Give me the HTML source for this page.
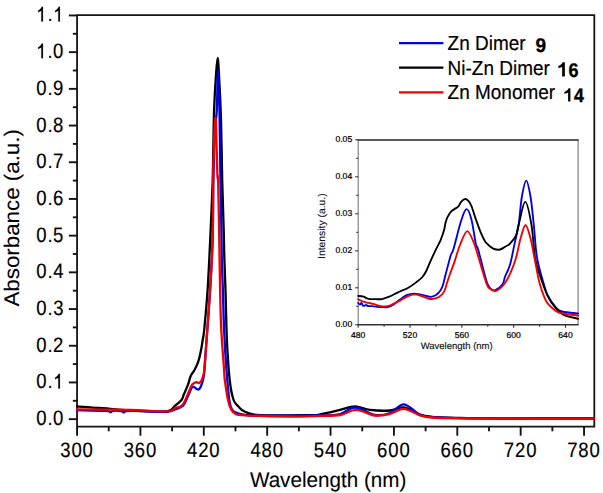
<!DOCTYPE html>
<html><head><meta charset="utf-8"><style>
html,body{margin:0;padding:0;background:#fff;width:603px;height:493px;overflow:hidden}
svg{display:block}
text{font-family:"Liberation Sans",sans-serif;fill:#000;text-rendering:geometricPrecision}
.tl{font-size:20.8px;stroke:#000;stroke-width:0.18px}
.tt{font-size:21.2px;stroke:#000;stroke-width:0.1px}
.lg{font-size:20.3px;stroke:#000;stroke-width:0.2px}
.num{font-size:19.6px;font-weight:bold;stroke:#000;stroke-width:0.35px}
.itl{font-size:8.6px;fill:#000;stroke:#000;stroke-width:0.22px}
.itt{font-size:9.5px;fill:#111;stroke:#111;stroke-width:0.15px}
.itt2{font-size:10px;fill:#111;stroke:#111;stroke-width:0.12px}
</style></head><body>
<svg width="603" height="493" viewBox="0 0 603 493">
<rect width="603" height="493" fill="#fff"/>
<path d="M77.05,15.2 H594.3 V426.7 H77.05 Z" fill="none" stroke="#141414" stroke-width="1.8"/>
<line x1="77.05" y1="426.7" x2="77.05" y2="435.7" stroke="#141414" stroke-width="1.9"/>
<text transform="translate(60.26,456.60) scale(0.89,1)" class="tl">3</text>
<text transform="translate(71.41,456.60) scale(0.89,1)" class="tl">0</text>
<text transform="translate(82.61,456.60) scale(0.89,1)" class="tl">0</text>
<line x1="140.42" y1="426.7" x2="140.42" y2="435.7" stroke="#141414" stroke-width="1.9"/>
<text transform="translate(123.63,456.60) scale(0.89,1)" class="tl">3</text>
<text transform="translate(134.74,456.60) scale(0.89,1)" class="tl">6</text>
<text transform="translate(145.99,456.60) scale(0.89,1)" class="tl">0</text>
<line x1="203.80" y1="426.7" x2="203.80" y2="435.7" stroke="#141414" stroke-width="1.9"/>
<text transform="translate(187.01,456.60) scale(0.89,1)" class="tl">4</text>
<text transform="translate(198.16,456.60) scale(0.89,1)" class="tl">2</text>
<text transform="translate(209.36,456.60) scale(0.89,1)" class="tl">0</text>
<line x1="267.17" y1="426.7" x2="267.17" y2="435.7" stroke="#141414" stroke-width="1.9"/>
<text transform="translate(250.38,456.60) scale(0.89,1)" class="tl">4</text>
<text transform="translate(261.49,456.60) scale(0.89,1)" class="tl">8</text>
<text transform="translate(272.74,456.60) scale(0.89,1)" class="tl">0</text>
<line x1="330.55" y1="426.7" x2="330.55" y2="435.7" stroke="#141414" stroke-width="1.9"/>
<text transform="translate(313.71,456.60) scale(0.89,1)" class="tl">5</text>
<text transform="translate(324.96,456.60) scale(0.89,1)" class="tl">4</text>
<text transform="translate(336.11,456.60) scale(0.89,1)" class="tl">0</text>
<line x1="393.93" y1="426.7" x2="393.93" y2="435.7" stroke="#141414" stroke-width="1.9"/>
<text transform="translate(377.04,456.60) scale(0.89,1)" class="tl">6</text>
<text transform="translate(388.29,456.60) scale(0.89,1)" class="tl">0</text>
<text transform="translate(399.49,456.60) scale(0.89,1)" class="tl">0</text>
<line x1="457.30" y1="426.7" x2="457.30" y2="435.7" stroke="#141414" stroke-width="1.9"/>
<text transform="translate(440.42,456.60) scale(0.89,1)" class="tl">6</text>
<text transform="translate(451.62,456.60) scale(0.89,1)" class="tl">6</text>
<text transform="translate(462.86,456.60) scale(0.89,1)" class="tl">0</text>
<line x1="520.67" y1="426.7" x2="520.67" y2="435.7" stroke="#141414" stroke-width="1.9"/>
<text transform="translate(503.84,456.60) scale(0.89,1)" class="tl">7</text>
<text transform="translate(515.04,456.60) scale(0.89,1)" class="tl">2</text>
<text transform="translate(526.24,456.60) scale(0.89,1)" class="tl">0</text>
<line x1="584.05" y1="426.7" x2="584.05" y2="435.7" stroke="#141414" stroke-width="1.9"/>
<text transform="translate(567.21,456.60) scale(0.89,1)" class="tl">7</text>
<text transform="translate(578.37,456.60) scale(0.89,1)" class="tl">8</text>
<text transform="translate(589.61,456.60) scale(0.89,1)" class="tl">0</text>
<line x1="108.74" y1="426.7" x2="108.74" y2="431.3" stroke="#141414" stroke-width="1.9"/>
<line x1="172.11" y1="426.7" x2="172.11" y2="431.3" stroke="#141414" stroke-width="1.9"/>
<line x1="235.49" y1="426.7" x2="235.49" y2="431.3" stroke="#141414" stroke-width="1.9"/>
<line x1="298.86" y1="426.7" x2="298.86" y2="431.3" stroke="#141414" stroke-width="1.9"/>
<line x1="362.24" y1="426.7" x2="362.24" y2="431.3" stroke="#141414" stroke-width="1.9"/>
<line x1="425.61" y1="426.7" x2="425.61" y2="431.3" stroke="#141414" stroke-width="1.9"/>
<line x1="488.99" y1="426.7" x2="488.99" y2="431.3" stroke="#141414" stroke-width="1.9"/>
<line x1="552.36" y1="426.7" x2="552.36" y2="431.3" stroke="#141414" stroke-width="1.9"/>
<line x1="68.85" y1="419.15" x2="77.05" y2="419.15" stroke="#141414" stroke-width="1.9"/>
<text transform="translate(36.16,425.15) scale(0.89,1)" class="tl">0</text>
<text transform="translate(47.50,425.15) scale(0.89,1)" class="tl">.</text>
<text transform="translate(53.11,425.15) scale(0.89,1)" class="tl">0</text>
<line x1="68.85" y1="382.45" x2="77.05" y2="382.45" stroke="#141414" stroke-width="1.9"/>
<text transform="translate(36.16,388.45) scale(0.89,1)" class="tl">0</text>
<text transform="translate(47.50,388.45) scale(0.89,1)" class="tl">.</text>
<path d="M58.30,388.45 h1.6 V373.85 H58.80 Q58.10,375.45 56.70,376.45 Q55.70,377.15 55.05,377.65 V379.35 Q56.10,379.05 57.30,378.35 Q57.90,377.95 58.30,377.45 Z" fill="#000" stroke="#000" stroke-width="0.18"/>
<line x1="68.85" y1="345.75" x2="77.05" y2="345.75" stroke="#141414" stroke-width="1.9"/>
<text transform="translate(36.16,351.75) scale(0.89,1)" class="tl">0</text>
<text transform="translate(47.50,351.75) scale(0.89,1)" class="tl">.</text>
<text transform="translate(53.11,351.75) scale(0.89,1)" class="tl">2</text>
<line x1="68.85" y1="309.05" x2="77.05" y2="309.05" stroke="#141414" stroke-width="1.9"/>
<text transform="translate(36.16,315.05) scale(0.89,1)" class="tl">0</text>
<text transform="translate(47.50,315.05) scale(0.89,1)" class="tl">.</text>
<text transform="translate(53.16,315.05) scale(0.89,1)" class="tl">3</text>
<line x1="68.85" y1="272.35" x2="77.05" y2="272.35" stroke="#141414" stroke-width="1.9"/>
<text transform="translate(36.16,278.35) scale(0.89,1)" class="tl">0</text>
<text transform="translate(47.50,278.35) scale(0.89,1)" class="tl">.</text>
<text transform="translate(53.16,278.35) scale(0.89,1)" class="tl">4</text>
<line x1="68.85" y1="235.65" x2="77.05" y2="235.65" stroke="#141414" stroke-width="1.9"/>
<text transform="translate(36.16,241.65) scale(0.89,1)" class="tl">0</text>
<text transform="translate(47.50,241.65) scale(0.89,1)" class="tl">.</text>
<text transform="translate(53.11,241.65) scale(0.89,1)" class="tl">5</text>
<line x1="68.85" y1="198.95" x2="77.05" y2="198.95" stroke="#141414" stroke-width="1.9"/>
<text transform="translate(36.16,204.95) scale(0.89,1)" class="tl">0</text>
<text transform="translate(47.50,204.95) scale(0.89,1)" class="tl">.</text>
<text transform="translate(53.07,204.95) scale(0.89,1)" class="tl">6</text>
<line x1="68.85" y1="162.25" x2="77.05" y2="162.25" stroke="#141414" stroke-width="1.9"/>
<text transform="translate(36.16,168.25) scale(0.89,1)" class="tl">0</text>
<text transform="translate(47.50,168.25) scale(0.89,1)" class="tl">.</text>
<text transform="translate(53.11,168.25) scale(0.89,1)" class="tl">7</text>
<line x1="68.85" y1="125.55" x2="77.05" y2="125.55" stroke="#141414" stroke-width="1.9"/>
<text transform="translate(36.16,131.55) scale(0.89,1)" class="tl">0</text>
<text transform="translate(47.50,131.55) scale(0.89,1)" class="tl">.</text>
<text transform="translate(53.07,131.55) scale(0.89,1)" class="tl">8</text>
<line x1="68.85" y1="88.85" x2="77.05" y2="88.85" stroke="#141414" stroke-width="1.9"/>
<text transform="translate(36.16,94.85) scale(0.89,1)" class="tl">0</text>
<text transform="translate(47.50,94.85) scale(0.89,1)" class="tl">.</text>
<text transform="translate(53.11,94.85) scale(0.89,1)" class="tl">9</text>
<line x1="68.85" y1="52.15" x2="77.05" y2="52.15" stroke="#141414" stroke-width="1.9"/>
<path d="M41.35,58.15 h1.6 V43.55 H41.85 Q41.15,45.15 39.75,46.15 Q38.75,46.85 38.10,47.35 V49.05 Q39.15,48.75 40.35,48.05 Q40.95,47.65 41.35,47.15 Z" fill="#000" stroke="#000" stroke-width="0.18"/>
<text transform="translate(47.50,58.15) scale(0.89,1)" class="tl">.</text>
<text transform="translate(53.11,58.15) scale(0.89,1)" class="tl">0</text>
<line x1="68.85" y1="15.45" x2="77.05" y2="15.45" stroke="#141414" stroke-width="1.9"/>
<path d="M41.35,21.45 h1.6 V6.85 H41.85 Q41.15,8.45 39.75,9.45 Q38.75,10.15 38.10,10.65 V12.35 Q39.15,12.05 40.35,11.35 Q40.95,10.95 41.35,10.45 Z" fill="#000" stroke="#000" stroke-width="0.18"/>
<text transform="translate(47.50,21.45) scale(0.89,1)" class="tl">.</text>
<path d="M58.30,21.45 h1.6 V6.85 H58.80 Q58.10,8.45 56.70,9.45 Q55.70,10.15 55.05,10.65 V12.35 Q56.10,12.05 57.30,11.35 Q57.90,10.95 58.30,10.45 Z" fill="#000" stroke="#000" stroke-width="0.18"/>
<line x1="72.85" y1="400.80" x2="77.05" y2="400.80" stroke="#141414" stroke-width="1.9"/>
<line x1="72.85" y1="364.10" x2="77.05" y2="364.10" stroke="#141414" stroke-width="1.9"/>
<line x1="72.85" y1="327.40" x2="77.05" y2="327.40" stroke="#141414" stroke-width="1.9"/>
<line x1="72.85" y1="290.70" x2="77.05" y2="290.70" stroke="#141414" stroke-width="1.9"/>
<line x1="72.85" y1="254.00" x2="77.05" y2="254.00" stroke="#141414" stroke-width="1.9"/>
<line x1="72.85" y1="217.30" x2="77.05" y2="217.30" stroke="#141414" stroke-width="1.9"/>
<line x1="72.85" y1="180.60" x2="77.05" y2="180.60" stroke="#141414" stroke-width="1.9"/>
<line x1="72.85" y1="143.90" x2="77.05" y2="143.90" stroke="#141414" stroke-width="1.9"/>
<line x1="72.85" y1="107.20" x2="77.05" y2="107.20" stroke="#141414" stroke-width="1.9"/>
<line x1="72.85" y1="70.50" x2="77.05" y2="70.50" stroke="#141414" stroke-width="1.9"/>
<line x1="72.85" y1="33.80" x2="77.05" y2="33.80" stroke="#141414" stroke-width="1.9"/>
<text transform="translate(249.9,487.2) scale(0.975,1)" class="tt">Wavelength (nm)</text>
<text transform="translate(18.8,306.6) rotate(-90) scale(1.054,1)" class="tt">Absorbance (a.u.)</text>
<path d="M77.0,406.4 C80.8,406.7 90.3,407.2 100.0,408.0 C109.7,408.8 123.8,410.3 135.0,410.9 C146.2,411.5 160.3,412.3 167.0,411.4 C173.7,410.5 172.6,407.6 175.0,405.7 C177.4,403.8 180.0,401.9 181.5,400.0 C183.0,398.1 182.8,396.9 183.9,394.3 C185.0,391.7 186.8,387.7 188.0,384.6 C189.2,381.5 189.7,378.1 190.8,375.7 C191.9,373.3 193.2,372.5 194.5,370.0 C195.8,367.5 197.4,364.1 198.5,360.8 C199.6,357.5 200.3,353.7 201.0,350.3 C201.7,346.9 202.1,343.9 202.6,340.5 C203.1,337.1 203.4,338.4 204.2,330.0 C205.0,321.6 206.6,305.0 207.6,290.0 C208.6,275.0 209.3,258.3 210.2,240.0 C211.0,221.7 212.0,201.7 212.7,180.0 C213.3,158.3 213.5,127.5 214.1,110.0 C214.7,92.5 215.4,83.7 216.0,75.0 C216.6,66.3 217.1,57.9 217.6,57.9 C218.1,57.9 218.4,64.7 219.0,75.0 C219.6,85.3 220.5,102.5 221.0,120.0 C221.5,137.5 221.8,161.7 222.2,180.0 C222.6,198.3 223.3,216.7 223.7,230.0 C224.1,243.3 224.1,250.0 224.4,260.0 C224.7,270.0 225.1,276.7 225.5,290.0 C225.9,303.3 226.2,325.0 226.9,340.0 C227.6,355.0 228.6,370.0 229.7,380.0 C230.8,390.0 232.1,395.6 233.6,400.0 C235.1,404.4 236.5,404.5 238.4,406.5 C240.3,408.5 241.4,410.4 245.0,411.8 C248.6,413.2 249.2,414.6 260.0,415.1 C270.8,415.7 300.0,415.2 310.0,415.1 C320.0,415.0 316.7,415.0 320.0,414.5 C323.3,414.0 326.7,413.1 330.0,412.3 C333.3,411.5 335.8,410.9 340.0,409.9 C344.2,408.9 350.0,406.3 355.0,406.3 C360.0,406.3 364.2,409.2 370.0,409.9 C375.8,410.6 384.3,410.9 390.0,410.5 C395.7,410.1 399.0,406.8 404.0,407.5 C409.0,408.2 415.3,413.1 420.0,414.6 C424.7,416.2 425.3,416.2 432.0,416.8 C438.7,417.4 448.7,417.6 460.0,417.9 C471.3,418.1 477.7,418.2 500.0,418.3 C522.3,418.4 578.3,418.5 594.0,418.5" fill="none" stroke="#000" stroke-width="2.3" stroke-linejoin="round" stroke-linecap="round"/>
<path d="M77.0,410.2 C81.8,410.3 100.5,410.5 106.0,410.8 C111.5,411.1 109.1,412.2 110.3,412.2 C111.5,412.2 111.2,411.0 113.0,410.8 C114.8,410.6 119.2,410.7 121.0,411.0 C122.8,411.3 123.0,412.5 123.8,412.5 C124.6,412.5 124.1,411.3 126.0,411.0 C127.9,410.7 128.2,410.7 135.0,410.8 C141.8,410.9 160.3,412.0 167.0,411.8 C173.7,411.6 172.3,410.5 175.0,409.5 C177.7,408.5 180.9,407.9 183.1,405.7 C185.3,403.4 186.5,399.1 188.0,396.0 C189.5,392.9 190.9,388.8 192.0,387.4 C193.1,386.0 193.4,387.0 194.5,387.4 C195.6,387.8 197.3,390.1 198.5,389.5 C199.7,388.9 200.9,386.5 201.8,383.8 C202.8,381.1 203.5,379.7 204.2,373.2 C204.9,366.7 205.2,358.9 206.2,345.0 C207.2,331.1 209.0,307.5 210.1,290.0 C211.2,272.5 212.0,258.3 212.6,240.0 C213.2,221.7 213.0,198.3 213.4,180.0 C213.8,161.7 214.4,141.7 215.0,130.0 C215.6,118.3 216.3,119.8 216.8,110.0 C217.3,100.2 217.6,73.0 218.0,71.3 C218.4,69.6 218.9,82.7 219.3,100.0 C219.7,117.3 220.1,153.3 220.4,175.0 C220.8,196.7 221.2,215.8 221.4,230.0 C221.6,244.2 221.6,250.0 221.8,260.0 C222.1,270.0 222.5,278.3 222.9,290.0 C223.3,301.7 223.5,316.7 224.1,330.0 C224.7,343.3 225.6,358.3 226.5,370.0 C227.4,381.7 228.4,393.5 229.3,400.0 C230.2,406.5 230.6,406.9 231.7,409.0 C232.8,411.1 233.5,411.5 235.7,412.5 C237.9,413.5 240.9,414.3 245.0,414.8 C249.1,415.3 247.5,415.5 260.0,415.6 C272.5,415.7 306.7,415.8 320.0,415.5 C333.3,415.2 334.2,415.3 340.0,414.0 C345.8,412.7 349.2,407.3 355.0,407.5 C360.8,407.7 369.2,414.1 375.0,415.0 C380.8,415.9 385.2,414.8 390.0,413.0 C394.8,411.2 399.0,404.0 404.0,404.3 C409.0,404.6 415.3,412.7 420.0,414.8 C424.7,416.9 425.3,416.6 432.0,417.2 C438.7,417.8 448.7,417.9 460.0,418.1 C471.3,418.3 477.7,418.2 500.0,418.3 C522.3,418.4 578.3,418.4 594.0,418.4" fill="none" stroke="#0000e6" stroke-width="2.3" stroke-linejoin="round" stroke-linecap="round"/>
<path d="M77.0,409.4 C85.8,409.5 115.0,409.6 130.0,409.9 C145.0,410.2 159.5,411.7 167.0,411.4 C174.5,411.1 172.8,408.8 175.0,408.0 C177.2,407.2 178.6,407.5 179.9,406.9 C181.2,406.2 182.0,405.7 183.1,404.1 C184.2,402.6 185.1,400.6 186.4,397.6 C187.8,394.6 190.0,388.6 191.2,386.2 C192.4,383.8 192.8,384.1 193.7,383.4 C194.6,382.7 195.7,382.3 196.5,382.2 C197.3,382.1 197.8,383.1 198.5,383.0 C199.2,382.9 200.2,382.5 201.0,381.4 C201.8,380.3 202.5,378.4 203.0,376.5 C203.5,374.6 203.7,375.2 204.2,370.0 C204.7,364.8 205.2,358.3 206.2,345.0 C207.2,331.7 209.0,307.5 210.1,290.0 C211.2,272.5 212.1,258.3 212.6,240.0 C213.1,221.7 213.0,193.3 213.2,180.0 C213.3,166.7 213.1,170.3 213.5,160.0 C213.9,149.7 214.8,115.4 215.5,117.9 C216.2,120.4 217.0,164.7 217.4,175.0 C217.8,185.3 217.8,169.2 218.1,180.0 C218.4,190.8 219.0,221.7 219.3,240.0 C219.6,258.3 219.8,275.0 220.1,290.0 C220.4,305.0 220.6,316.7 221.3,330.0 C222.0,343.3 223.5,361.7 224.1,370.0 C224.7,378.3 224.2,375.0 224.8,380.0 C225.5,385.0 226.9,395.0 228.0,399.9 C229.1,404.8 230.0,407.2 231.3,409.6 C232.6,412.0 233.7,413.2 236.0,414.2 C238.3,415.1 241.0,415.0 245.0,415.3 C249.0,415.6 250.8,415.7 260.0,415.9 C269.2,416.1 290.0,416.6 300.0,416.6 C310.0,416.6 313.3,416.2 320.0,415.9 C326.7,415.6 334.0,416.0 340.0,415.0 C346.0,414.0 350.2,409.8 356.0,409.9 C361.8,410.0 369.3,414.8 375.0,415.5 C380.7,416.2 385.2,415.0 390.0,413.9 C394.8,412.8 399.0,408.7 404.0,408.9 C409.0,409.1 415.3,413.9 420.0,415.3 C424.7,416.7 425.3,417.0 432.0,417.5 C438.7,418.0 448.7,418.1 460.0,418.3 C471.3,418.5 477.7,418.4 500.0,418.5 C522.3,418.6 578.3,418.6 594.0,418.6" fill="none" stroke="#f00000" stroke-width="2.3" stroke-linejoin="round" stroke-linecap="round"/>
<line x1="399" y1="43.1" x2="443.4" y2="43.1" stroke="#0000e6" stroke-width="2.2"/>
<text transform="translate(447.6,49.9) scale(0.935,1)" class="lg">Zn Dimer</text>
<line x1="399" y1="67.7" x2="443.4" y2="67.7" stroke="#000" stroke-width="2.2"/>
<text transform="translate(447.6,74.5) scale(0.935,1)" class="lg">Ni-Zn Dimer</text>
<line x1="399" y1="92.3" x2="443.4" y2="92.3" stroke="#f00000" stroke-width="2.2"/>
<text transform="translate(447.6,99.1) scale(0.935,1)" class="lg">Zn Monomer</text>
<text transform="translate(535.58,51.80) scale(0.96,1)" class="num" style="font-size:19.8px">9</text>
<path d="M562.15,76.40 H564.85 V62.35 H562.75 Q561.95,64.05 560.35,65.05 Q559.25,65.65 558.35,65.95 V68.10 Q559.85,67.50 560.95,67.40 Q561.75,66.90 562.15,66.70 Z" fill="#000"/>
<text transform="translate(568.60,76.60) scale(0.91,1)" class="num" style="font-size:19.8px">6</text>
<path d="M568.10,101.40 H570.40 V88.25 H568.70 Q567.90,89.95 566.30,90.95 Q565.25,91.55 564.35,91.85 V93.70 Q565.85,93.10 566.90,93.30 Q567.70,92.80 568.10,92.60 Z" fill="#000"/>
<text transform="translate(574.02,101.60) scale(0.9,1)" class="num" style="font-size:19.8px">4</text>
<rect x="358.2" y="140.0" width="219.9" height="184.8" fill="#fff" stroke="none"/>
<line x1="358.2" y1="140.0" x2="358.2" y2="324.8" stroke="#777" stroke-width="1.1"/>
<line x1="578.1" y1="140.0" x2="578.1" y2="324.8" stroke="#777" stroke-width="1.1"/>
<line x1="357.7" y1="140.0" x2="578.6" y2="140.0" stroke="#222" stroke-width="1.6"/>
<line x1="357.7" y1="324.8" x2="578.6" y2="324.8" stroke="#333" stroke-width="1.4"/>
<line x1="358.20" y1="324.8" x2="358.20" y2="327.8" stroke="#333" stroke-width="1.1"/>
<text x="358.20" y="337.9" class="itl" text-anchor="middle">480</text>
<line x1="410.02" y1="324.8" x2="410.02" y2="327.8" stroke="#333" stroke-width="1.1"/>
<text x="410.02" y="337.9" class="itl" text-anchor="middle">520</text>
<line x1="461.85" y1="324.8" x2="461.85" y2="327.8" stroke="#333" stroke-width="1.1"/>
<text x="461.85" y="337.9" class="itl" text-anchor="middle">560</text>
<line x1="513.67" y1="324.8" x2="513.67" y2="327.8" stroke="#333" stroke-width="1.1"/>
<text x="513.67" y="337.9" class="itl" text-anchor="middle">600</text>
<line x1="565.50" y1="324.8" x2="565.50" y2="327.8" stroke="#333" stroke-width="1.1"/>
<text x="565.50" y="337.9" class="itl" text-anchor="middle">640</text>
<line x1="384.11" y1="324.8" x2="384.11" y2="326.8" stroke="#333" stroke-width="1.1"/>
<line x1="435.94" y1="324.8" x2="435.94" y2="326.8" stroke="#333" stroke-width="1.1"/>
<line x1="487.76" y1="324.8" x2="487.76" y2="326.8" stroke="#333" stroke-width="1.1"/>
<line x1="539.58" y1="324.8" x2="539.58" y2="326.8" stroke="#333" stroke-width="1.1"/>
<line x1="355.2" y1="324.80" x2="358.2" y2="324.80" stroke="#333" stroke-width="1.1"/>
<text x="352.2" y="327.30" class="itl" text-anchor="end">0.00</text>
<line x1="355.2" y1="287.80" x2="358.2" y2="287.80" stroke="#333" stroke-width="1.1"/>
<text x="352.2" y="290.30" class="itl" text-anchor="end">0.01</text>
<line x1="355.2" y1="250.80" x2="358.2" y2="250.80" stroke="#333" stroke-width="1.1"/>
<text x="352.2" y="253.30" class="itl" text-anchor="end">0.02</text>
<line x1="355.2" y1="213.80" x2="358.2" y2="213.80" stroke="#333" stroke-width="1.1"/>
<text x="352.2" y="216.30" class="itl" text-anchor="end">0.03</text>
<line x1="355.2" y1="176.80" x2="358.2" y2="176.80" stroke="#333" stroke-width="1.1"/>
<text x="352.2" y="179.30" class="itl" text-anchor="end">0.04</text>
<line x1="355.2" y1="139.80" x2="358.2" y2="139.80" stroke="#333" stroke-width="1.1"/>
<text x="352.2" y="142.30" class="itl" text-anchor="end">0.05</text>
<line x1="356.2" y1="306.30" x2="358.2" y2="306.30" stroke="#333" stroke-width="1.1"/>
<line x1="356.2" y1="269.30" x2="358.2" y2="269.30" stroke="#333" stroke-width="1.1"/>
<line x1="356.2" y1="232.30" x2="358.2" y2="232.30" stroke="#333" stroke-width="1.1"/>
<line x1="356.2" y1="195.30" x2="358.2" y2="195.30" stroke="#333" stroke-width="1.1"/>
<line x1="356.2" y1="158.30" x2="358.2" y2="158.30" stroke="#333" stroke-width="1.1"/>
<text x="420.7" y="349" class="itt">Wavelength (nm)</text>
<text transform="translate(325.4,258.9) rotate(-90) scale(1.035,1)" class="itt2">Intensity (a.u.)</text>
<path d="M358.2,302.9 C358.5,303.2 359.4,304.5 360.0,304.5 C360.6,304.5 361.0,302.8 361.5,303.0 C362.0,303.2 362.5,305.0 363.0,305.5 C363.5,306.0 363.8,305.9 364.3,305.8 C364.8,305.7 365.4,304.8 366.0,304.8 C366.6,304.8 366.9,305.8 368.0,306.0 C369.1,306.2 370.5,306.0 372.6,306.2 C374.8,306.4 378.4,307.0 380.9,307.1 C383.4,307.2 385.4,307.5 387.5,307.1 C389.6,306.7 391.2,305.9 393.3,304.6 C395.4,303.4 397.8,301.2 400.0,299.6 C402.2,298.0 404.2,296.2 406.6,295.2 C409.0,294.2 411.6,293.7 414.1,293.6 C416.6,293.5 418.8,294.2 421.6,294.8 C424.4,295.4 428.4,296.8 430.7,296.9 C433.0,297.0 434.0,296.3 435.7,295.2 C437.4,294.1 439.4,292.0 440.6,290.2 C441.8,288.4 442.3,287.0 443.1,284.4 C443.9,281.8 444.3,279.3 445.6,274.5 C446.9,269.7 449.4,259.6 450.7,255.4 C452.0,251.2 451.8,254.6 453.5,249.0 C455.2,243.4 458.7,228.4 460.8,221.8 C462.9,215.2 464.6,209.6 466.4,209.2 C468.2,208.8 469.8,213.2 471.4,219.2 C473.0,225.2 474.9,240.0 476.0,245.0 C477.1,250.0 476.3,243.2 478.0,249.0 C479.7,254.8 484.0,273.0 486.0,279.5 C488.0,286.0 488.4,286.3 490.0,288.1 C491.6,289.9 493.2,290.8 495.3,290.1 C497.4,289.4 501.1,286.2 502.7,284.0 C504.3,281.8 503.8,280.0 505.0,276.8 C506.2,273.6 508.4,270.3 510.0,264.8 C511.6,259.3 513.2,250.2 514.6,243.6 C516.0,237.0 517.4,232.8 518.6,225.0 C519.8,217.2 520.6,203.9 521.9,196.5 C523.2,189.1 524.9,180.6 526.3,180.6 C527.7,180.6 529.2,189.1 530.5,196.5 C531.8,203.9 532.7,214.7 533.8,225.0 C534.9,235.3 535.4,248.4 537.1,258.2 C538.8,268.0 542.0,277.7 543.8,284.0 C545.6,290.3 546.0,292.1 548.0,296.0 C550.0,299.9 553.7,304.9 556.0,307.5 C558.3,310.1 558.3,310.5 562.0,311.5 C565.7,312.5 575.4,313.2 578.1,313.5" fill="none" stroke="#0000e6" stroke-width="1.85" stroke-linejoin="round" stroke-linecap="round"/>
<path d="M358.2,295.9 C359.1,296.0 361.8,296.2 363.5,296.7 C365.2,297.2 366.2,298.4 368.4,298.8 C370.6,299.2 374.4,299.1 376.7,299.2 C379.0,299.2 379.9,299.5 382.0,299.1 C384.1,298.7 387.0,297.6 389.2,296.7 C391.4,295.8 393.2,294.7 395.0,293.8 C396.8,292.9 397.8,292.5 400.0,291.5 C402.2,290.5 405.5,289.4 408.3,287.8 C411.1,286.2 414.2,283.8 416.6,282.0 C419.0,280.2 420.9,278.7 422.4,277.0 C423.9,275.3 424.4,274.6 425.7,272.0 C427.0,269.4 428.8,265.0 430.4,261.4 C432.0,257.8 433.8,253.9 435.5,250.3 C437.2,246.8 439.2,243.5 440.6,240.1 C442.0,236.7 443.3,232.8 444.1,230.0 C444.9,227.2 444.9,225.1 445.5,223.0 C446.1,220.9 446.5,219.2 447.5,217.2 C448.5,215.2 449.7,213.0 451.5,211.2 C453.3,209.4 456.6,208.1 458.2,206.6 C459.8,205.1 459.8,203.3 461.0,202.0 C462.2,200.7 463.9,198.6 465.5,199.0 C467.1,199.4 469.2,201.4 470.8,204.6 C472.4,207.8 473.8,213.3 475.4,217.9 C477.0,222.5 479.0,228.4 480.7,232.4 C482.4,236.4 483.8,239.4 485.3,241.7 C486.9,244.0 488.6,245.2 490.0,246.4 C491.4,247.6 492.3,248.5 494.0,249.0 C495.7,249.5 498.0,250.0 500.0,249.5 C502.0,249.0 504.3,247.2 506.0,246.2 C507.7,245.2 508.4,245.4 510.0,243.6 C511.6,241.8 514.5,238.7 515.9,235.6 C517.3,232.5 517.0,230.6 518.6,225.0 C520.2,219.4 523.1,201.8 525.2,201.8 C527.4,201.8 529.9,215.6 531.5,225.0 C533.1,234.4 533.7,249.9 535.1,258.2 C536.5,266.5 537.7,268.7 539.8,275.0 C541.9,281.3 545.1,290.7 547.7,296.2 C550.4,301.7 553.0,305.1 555.7,308.2 C558.4,311.3 560.0,313.0 563.7,314.8 C567.4,316.6 575.7,318.1 578.1,318.8" fill="none" stroke="#000" stroke-width="1.85" stroke-linejoin="round" stroke-linecap="round"/>
<path d="M358.2,299.2 C358.9,299.6 360.9,300.7 362.6,301.3 C364.3,301.9 366.5,302.4 368.4,302.9 C370.3,303.4 372.4,303.7 374.2,304.2 C376.0,304.7 377.0,305.5 379.2,305.8 C381.4,306.1 385.1,306.5 387.5,306.2 C389.9,305.9 391.2,304.7 393.3,303.8 C395.4,302.9 397.8,301.8 400.0,300.6 C402.2,299.5 404.2,297.9 406.6,296.9 C409.0,295.9 411.6,294.5 414.1,294.4 C416.6,294.2 419.2,295.3 421.6,296.0 C424.0,296.7 426.3,298.0 428.2,298.5 C430.1,299.0 431.4,299.2 433.2,298.9 C435.0,298.6 437.2,298.1 439.0,296.9 C440.8,295.7 442.6,294.4 444.0,291.9 C445.4,289.4 446.3,284.9 447.3,282.0 C448.3,279.1 448.6,278.0 449.8,274.5 C451.1,271.0 453.1,265.8 454.8,260.9 C456.5,256.0 457.9,250.0 460.0,245.0 C462.1,240.0 464.9,231.1 467.4,231.1 C469.8,231.1 473.3,242.0 474.7,245.0 C476.1,248.0 474.1,242.8 476.0,249.0 C477.9,255.2 483.7,275.5 486.0,282.1 C488.3,288.7 488.3,287.4 490.0,288.8 C491.7,290.2 493.6,291.6 496.0,290.8 C498.4,290.0 501.9,287.0 504.3,284.0 C506.7,281.0 508.7,277.0 510.6,272.7 C512.5,268.4 514.2,263.9 515.9,258.2 C517.6,252.5 519.0,243.8 520.6,238.3 C522.2,232.8 523.9,225.0 525.5,225.0 C527.1,225.0 528.8,231.7 530.5,238.3 C532.2,244.9 534.2,257.2 535.8,264.8 C537.3,272.4 538.0,277.9 539.8,284.0 C541.6,290.1 543.8,297.0 546.4,301.5 C549.0,306.0 553.1,308.8 555.7,310.8 C558.4,312.8 558.6,312.7 562.3,313.5 C566.0,314.3 575.5,315.2 578.1,315.5" fill="none" stroke="#f00000" stroke-width="1.85" stroke-linejoin="round" stroke-linecap="round"/>
</svg>
</body></html>
